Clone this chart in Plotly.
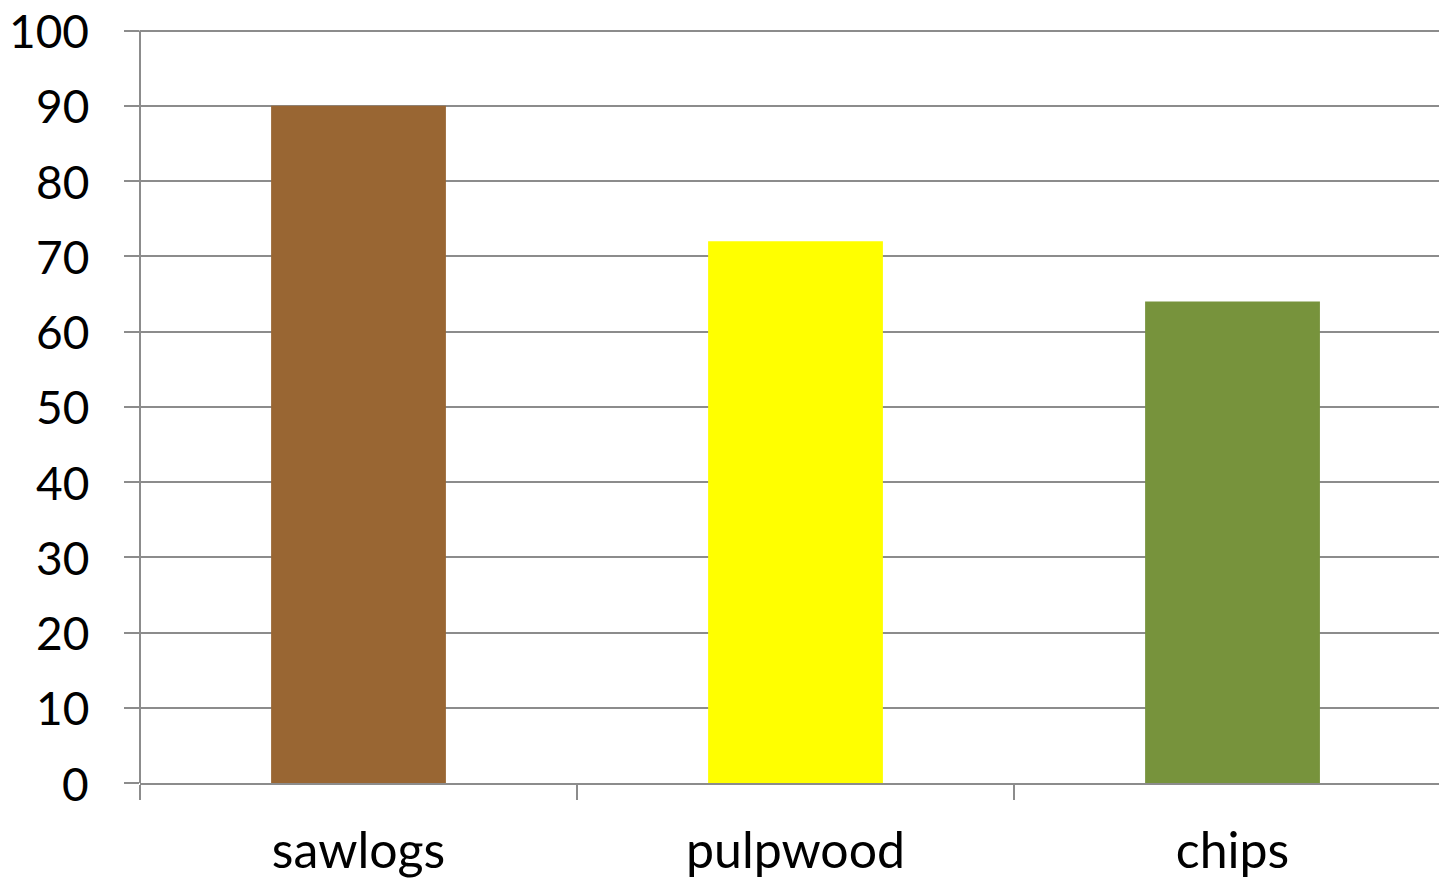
import plotly.graph_objects as go

categories = ["sawlogs", "pulpwood", "chips"]
values = [90, 72, 64]
colors = ["#996633", "#FFFF00", "#77933C"]
y_ticks = [0, 10, 20, 30, 40, 50, 60, 70, 80, 90, 100]

fig = go.Figure(go.Bar(
    x=categories, y=values, marker=dict(color=colors, line=dict(width=0)),
    width=0.4, hoverinfo="skip",
))

grid = "#8c8c8c"
fig.update_layout(
    width=1439, height=878,
    margin=dict(l=140, r=0, t=22.5, b=95),
    paper_bgcolor="white", plot_bgcolor="white",
    font=dict(family="Lato, Open Sans, sans-serif", size=46, color="black"),
    showlegend=False,
    bargap=0.6,
)
fig.update_xaxes(
    type="category", range=[-0.5, 2.4725],
    tickson="boundaries", ticks="outside", ticklen=15, tickwidth=2, tickcolor=grid,
    showgrid=False, showline=True, linecolor=grid, linewidth=2,
    ticklabelstandoff=23, tickfont=dict(size=50), automargin=False,
)
fig.update_yaxes(
    range=[0, 101], tickvals=y_ticks, showticklabels=False,
    ticks="outside", ticklen=15, tickwidth=2, tickcolor=grid,
    showgrid=True, gridcolor=grid, gridwidth=2,
    showline=False, zeroline=False, automargin=False,
)
# vertical axis line from 0 to 100
fig.add_shape(type="line", xref="paper", yref="y", x0=0, x1=0,
              y0=y_ticks[0], y1=y_ticks[-1], line=dict(color=grid, width=2))
# y tick labels
for v in y_ticks:
    fig.add_annotation(x=0, xref="paper", y=v, yref="y", text=str(v),
                       showarrow=False, xanchor="right", yanchor="middle",
                       xshift=-49, font=dict(size=46, color="black"))
fig.write_html(
    "out.html",
    config={"displayModeBar": False},
    post_script="document.body.style.margin='0';document.body.style.overflow='hidden';",
)
